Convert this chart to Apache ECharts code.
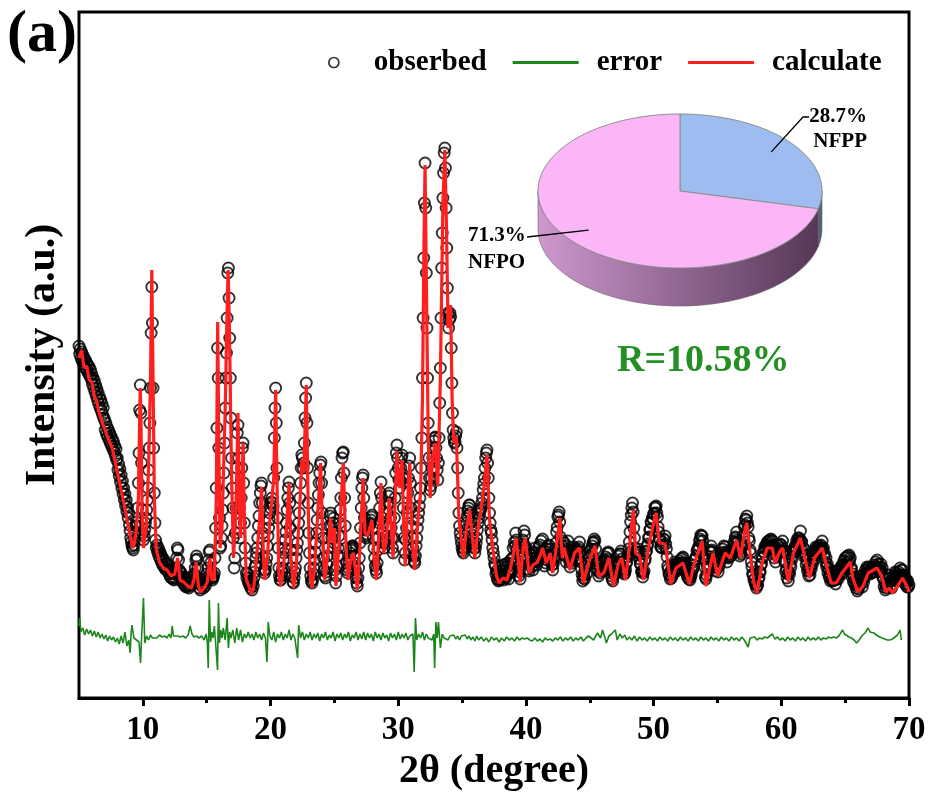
<!DOCTYPE html>
<html><head><meta charset="utf-8">
<script src="https://cdn.jsdelivr.net/npm/echarts@6/dist/echarts.min.js"></script>
<style>html,body{margin:0;padding:0;background:#fff}#c{width:931px;height:798px}</style>
</head><body><div id="c"></div>
<script>
// ---------------- data ----------------
const xTicks = [10, 20, 30, 40, 50, 60, 70];
const xMinorTicks = [15, 25, 35, 45, 55, 65];

// observed pattern: measured on a uniform 2θ grid starting at 5°, step 0.05° (one row = 1°)
const obsStart = 5;
const obsStep = 0.05;
const observedIntensity = [
/* 5 */ 352,344,349,340,346,337,343,334,340,331,338,329,335,327,333,324,331,322,328,319,
/* 6 */ 324,314,320,310,317,306,313,302,309,298,305,294,301,290,298,287,294,283,290,280,
/* 7 */ 278,268,275,264,271,261,268,258,265,255,262,252,259,249,256,246,252,242,249,238,
/* 8 */ 240,228,234,222,229,216,223,210,217,204,210,198,204,192,198,186,191,180,185,173,
/* 9 */ 167,160,156,152,150,148,153,158,165,172,176,172,190,215,245,288,313,285,235,188,
/*10 */ 165,158,162,168,175,180,188,198,210,228,250,275,310,365,411,375,310,250,205,175,
/*11 */ 158,150,153,146,150,142,147,139,144,136,141,133,139,131,137,129,135,128,134,127,
/*12 */ 132,124,129,121,127,120,126,119,125,118,124,120,130,140,150,148,138,128,122,126,
/*13 */ 119,124,116,121,114,120,112,118,111,117,113,119,110,116,112,118,114,120,116,122,
/*14 */ 124,118,130,138,142,139,130,120,114,110,108,114,118,112,116,110,114,118,112,120,
/*15 */ 124,118,130,138,146,148,135,126,120,118,120,122,125,140,170,210,270,350,320,250,
/*16 */ 180,150,152,160,172,188,205,225,255,290,320,345,380,425,430,400,360,320,280,240,
/*17 */ 210,190,160,130,140,165,190,230,265,273,240,190,160,175,200,230,250,255,215,175,
/*18 */ 150,135,125,120,124,116,120,113,117,110,114,108,116,112,120,126,132,140,145,150,
/*19 */ 160,172,182,195,205,212,215,195,165,140,128,125,128,134,140,152,162,170,178,185,
/*20 */ 190,196,200,195,192,220,260,290,310,275,230,180,150,130,122,118,118,122,126,130,
/*21 */ 138,145,150,158,166,175,188,200,210,216,195,170,148,130,122,116,115,120,126,130,
/*22 */ 140,148,155,165,175,185,200,215,230,243,240,230,235,255,280,300,315,275,230,195,
/*23 */ 165,145,130,122,117,115,118,124,130,138,146,155,165,178,190,203,215,225,233,236,
/*24 */ 215,185,160,140,128,122,120,126,134,142,150,160,172,182,185,172,160,166,175,180,
/*25 */ 155,128,115,122,132,142,150,162,175,188,200,220,240,245,246,225,200,172,150,135,
/*26 */ 128,125,130,136,140,145,148,150,152,152,150,142,135,128,120,115,112,120,130,140,
/*27 */ 155,170,190,210,220,223,200,180,168,162,160,164,168,170,172,174,175,178,181,183,
/*28 */ 170,160,150,140,132,128,125,135,148,160,175,190,205,216,200,180,165,155,150,155,
/*29 */ 158,162,172,185,195,202,205,195,180,170,160,150,145,160,180,200,225,245,253,240,
/*30 */ 230,218,210,218,230,240,243,220,190,160,138,145,158,170,185,205,220,232,240,215,
/*31 */ 190,172,160,150,142,137,135,142,152,160,170,178,185,192,200,210,230,260,320,380,
/*32 */ 440,495,535,490,425,370,320,275,240,220,208,212,220,230,240,250,257,260,261,250,
/*33 */ 240,228,218,235,260,295,330,380,430,465,500,525,545,550,530,490,450,410,385,370,
/*34 */ 378,385,381,350,315,285,268,260,255,256,262,266,250,230,205,185,172,165,160,155,
/*35 */ 150,147,145,150,156,162,168,175,182,187,190,193,193,185,176,170,163,158,155,150,
/*36 */ 145,150,155,160,168,175,180,184,187,188,190,195,200,208,214,220,230,240,245,248,
/*37 */ 235,220,200,185,175,168,165,158,150,145,140,134,132,124,127,119,124,117,122,118,
/*38 */ 131,119,128,122,133,118,126,121,134,120,131,124,135,119,128,125,138,127,134,140,
/*39 */ 150,141,156,152,165,158,149,137,131,122,126,119,133,141,150,158,154,167,163,152,
/*40 */ 149,138,141,129,134,127,143,134,144,131,139,128,146,136,150,137,145,133,142,136,
/*41 */ 151,139,153,144,157,146,159,147,143,132,147,135,149,138,152,140,153,142,149,137,
/*42 */ 143,133,128,134,141,139,149,155,166,171,181,183,186,176,161,148,144,152,157,147,
/*43 */ 155,146,142,136,149,152,157,144,137,131,141,137,135,145,148,151,142,149,139,146,
/*44 */ 147,138,149,151,156,146,136,129,123,117,120,123,119,129,131,124,135,134,142,141,
/*45 */ 140,147,149,144,152,155,156,159,157,149,138,134,129,127,122,132,125,134,136,128,
/*46 */ 127,136,129,138,131,141,137,145,139,146,145,136,131,128,122,119,117,124,127,131,
/*47 */ 124,132,126,136,135,142,135,144,144,147,139,135,129,127,124,125,128,134,136,141,
/*48 */ 144,149,156,166,176,183,190,195,186,170,160,150,146,143,146,145,149,146,139,134,
/*49 */ 134,126,127,121,125,127,137,139,146,147,152,154,160,161,168,169,176,175,180,179,
/*50 */ 184,185,191,190,192,185,181,171,166,159,158,151,151,150,156,153,159,158,162,154,
/*51 */ 149,141,132,129,124,123,119,127,120,130,123,132,126,136,129,134,127,133,129,135,
/*52 */ 131,137,133,139,135,140,141,135,133,129,129,125,126,121,125,119,123,118,121,123,
/*53 */ 127,129,129,133,138,139,139,142,147,149,149,152,157,159,163,162,162,157,151,139,
/*54 */ 131,121,119,123,131,134,139,141,146,147,152,148,146,139,139,132,131,127,131,133,
/*55 */ 130,126,137,132,142,138,145,140,149,143,152,146,151,141,145,136,144,140,146,141,
/*56 */ 147,142,148,145,151,149,156,154,161,160,166,158,156,147,149,142,146,144,153,151,
/*57 */ 161,163,171,173,179,178,182,175,171,160,157,148,145,136,131,124,123,118,119,114,
/*58 */ 115,110,112,113,119,120,126,126,133,134,141,140,146,146,151,149,153,152,156,154,
/*59 */ 157,150,158,152,159,151,157,149,153,140,144,136,149,142,153,145,152,146,154,148,
/*60 */ 153,150,157,147,146,136,137,126,129,120,124,117,126,124,134,131,141,139,148,146,
/*61 */ 150,146,152,150,157,154,160,156,160,158,167,157,156,147,150,142,149,143,143,133,
/*62 */ 137,127,130,122,127,123,132,129,137,134,143,139,147,143,151,146,150,147,152,148,
/*63 */ 152,149,153,150,157,148,150,141,144,136,140,131,134,125,129,121,124,117,122,118,
/*64 */ 126,117,127,118,122,114,123,119,127,119,128,124,129,125,132,124,133,129,137,133,
/*65 */ 140,132,141,133,142,135,143,137,140,129,130,121,124,116,121,114,118,110,114,107,
/*66 */ 112,109,118,114,122,114,118,111,119,116,124,121,128,124,131,126,130,126,131,124,
/*67 */ 129,125,130,126,131,126,133,129,136,131,138,130,134,126,131,127,134,127,130,120,
/*68 */ 120,111,115,108,113,110,119,115,123,116,120,112,117,110,118,114,122,118,126,121,
/*69 */ 125,117,122,118,126,122,130,123,128,123,128,120,123,115,120,113,118,111,117,111,
/*70 */ 113
];

const calculated = [
[5.0,340],[5.2,348],[5.4,330],[5.6,332],[5.8,318],[6.0,316],[6.2,302],[6.4,296],[6.6,284],[6.8,276],[7.0,270],[7.2,262],[7.4,256],[7.6,250],[7.8,238],[8.0,226],[8.2,214],[8.4,202],[8.6,190],[8.8,176],[9.0,164],[9.2,150],[9.35,155],[9.5,170],[9.65,200],[9.75,280],[9.8,310],[9.85,280],[9.95,180],[10.05,150],[10.25,170],[10.45,230],[10.6,320],[10.7,428],[10.8,320],[10.9,200],[11.05,148],[11.3,136],[11.6,130],[11.9,128],[12.2,122],[12.5,124],[12.72,140],[12.9,118],[13.2,116],[13.5,112],[13.8,110],[14.0,118],[14.18,136],[14.35,112],[14.55,106],[14.8,110],[15.05,116],[15.25,140],[15.4,118],[15.6,120],[15.75,200],[15.86,376],[15.96,240],[16.05,150],[16.2,170],[16.45,290],[16.6,390],[16.68,428],[16.78,370],[16.95,220],[17.1,140],[17.3,190],[17.45,285],[17.55,200],[17.65,160],[17.78,220],[17.85,255],[17.95,180],[18.1,118],[18.3,112],[18.5,104],[18.7,112],[18.9,140],[19.1,170],[19.3,211],[19.45,140],[19.55,118],[19.75,140],[19.95,180],[20.1,198],[20.25,220],[20.4,308],[20.5,220],[20.65,125],[20.8,112],[21.0,130],[21.25,170],[21.45,215],[21.6,140],[21.8,110],[22.0,130],[22.25,180],[22.45,238],[22.6,225],[22.8,313],[22.95,190],[23.1,125],[23.25,110],[23.45,130],[23.7,185],[23.92,235],[24.05,175],[24.25,118],[24.5,145],[24.7,180],[24.85,155],[25.0,170],[25.12,112],[25.35,150],[25.55,200],[25.7,235],[25.85,170],[26.05,118],[26.3,140],[26.5,145],[26.8,108],[27.0,150],[27.25,220],[27.4,165],[27.6,162],[27.95,178],[28.1,140],[28.3,118],[28.5,170],[28.65,215],[28.85,145],[29.05,155],[29.3,200],[29.6,140],[29.9,247],[30.05,215],[30.15,210],[30.3,238],[30.45,160],[30.55,132],[30.8,215],[30.9,235],[31.1,155],[31.3,128],[31.55,180],[31.75,205],[31.9,300],[32.02,460],[32.1,533],[32.2,420],[32.35,260],[32.5,200],[32.7,240],[32.9,255],[33.1,212],[33.3,320],[33.5,495],[33.65,548],[33.78,470],[33.9,370],[34.0,378],[34.1,393],[34.22,300],[34.35,255],[34.55,262],[34.75,180],[35.1,140],[35.35,170],[35.6,188],[35.85,155],[36.0,140],[36.3,175],[36.45,185],[36.75,215],[36.95,243],[37.15,178],[37.4,150],[37.7,122],[37.9,115],[38.2,120],[38.5,118],[38.8,130],[39.1,150],[39.25,160],[39.55,116],[39.8,152],[39.95,160],[40.25,125],[40.55,133],[40.9,136],[41.1,142],[41.3,150],[41.6,135],[41.9,145],[42.1,125],[42.45,158],[42.65,180],[42.85,140],[43.0,150],[43.45,128],[43.8,145],[44.2,150],[44.5,115],[44.9,135],[45.4,152],[45.7,122],[46.1,125],[46.5,140],[46.85,112],[47.25,135],[47.5,140],[47.8,118],[48.1,150],[48.42,188],[48.6,145],[48.9,142],[49.2,118],[49.6,150],[50.0,175],[50.2,185],[50.45,155],[50.9,154],[51.35,114],[51.75,130],[52.3,135],[52.8,114],[53.2,135],[53.8,157],[54.1,112],[54.65,145],[55.0,122],[55.6,145],[56.0,140],[56.5,158],[56.8,140],[57.1,165],[57.3,175],[57.55,145],[57.85,115],[58.1,105],[58.5,135],[58.9,150],[59.3,150],[59.5,135],[59.9,147],[60.1,150],[60.55,116],[60.95,145],[61.5,160],[61.85,140],[62.2,120],[62.6,140],[63.2,150],[63.55,132],[63.9,115],[64.3,115],[64.75,125],[65.4,136],[65.6,120],[66.0,106],[66.4,112],[66.8,125],[67.5,130],[67.85,122],[68.2,106],[68.45,110],[68.7,105],[69.1,112],[69.5,120],[69.9,110],[70.0,106]
];

const errorCurve = [
[5.0,72],[5.05,80],[5.15,66],[5.3,70],[5.45,63],[5.6,69],[5.75,64],[5.9,68],[6.05,62],[6.2,67],[6.35,61],[6.5,66],[6.65,60],[6.8,64],[6.95,59],[7.1,63],[7.25,57],[7.4,62],[7.55,58],[7.7,61],[7.85,56],[8.0,60],[8.15,54],[8.3,62],[8.45,55],[8.6,66],[8.75,52],[8.9,58],[9.0,45],[9.1,68],[9.15,73],[9.3,60],[9.5,58],[9.7,56],[9.82,35],[9.9,60],[10.05,100],[10.15,55],[10.3,62],[10.45,58],[10.6,63],[10.75,60],[10.9,62],[11.1,60],[11.3,63],[11.5,61],[11.7,62],[11.9,60],[12.05,64],[12.2,60],[12.3,72],[12.4,62],[12.55,60],[12.75,62],[12.95,61],[13.15,62],[13.35,60],[13.55,63],[13.7,72],[13.85,64],[14.0,61],[14.2,62],[14.4,60],[14.6,62],[14.8,58],[14.95,64],[15.05,56],[15.12,30],[15.2,98],[15.3,56],[15.4,66],[15.5,60],[15.6,72],[15.7,55],[15.85,28],[15.92,95],[16.0,55],[16.1,68],[16.2,60],[16.3,70],[16.45,58],[16.6,80],[16.7,50],[16.8,66],[16.9,60],[17.05,68],[17.2,55],[17.35,70],[17.5,58],[17.65,68],[17.8,56],[17.95,64],[18.1,60],[18.25,66],[18.4,60],[18.55,64],[18.7,58],[18.85,66],[19.0,60],[19.15,64],[19.3,58],[19.45,65],[19.6,60],[19.72,36],[19.82,76],[19.95,62],[20.1,58],[20.25,66],[20.4,56],[20.55,64],[20.7,60],[20.85,66],[21.0,58],[21.15,64],[21.3,60],[21.45,68],[21.6,58],[21.75,64],[21.9,60],[22.05,62],[22.12,40],[22.2,73],[22.35,60],[22.5,66],[22.65,58],[22.8,64],[22.95,60],[23.1,66],[23.25,58],[23.4,64],[23.55,60],[23.7,65],[23.85,57],[24.0,64],[24.15,60],[24.3,66],[24.45,58],[24.6,63],[24.75,60],[24.9,66],[25.05,57],[25.2,64],[25.35,60],[25.5,65],[25.65,58],[25.8,64],[25.95,60],[26.1,66],[26.25,57],[26.4,63],[26.55,60],[26.7,66],[26.85,58],[27.0,64],[27.15,59],[27.3,66],[27.45,58],[27.6,65],[27.75,60],[27.9,64],[28.05,57],[28.2,66],[28.35,60],[28.5,64],[28.65,58],[28.8,65],[28.95,60],[29.1,63],[29.25,57],[29.4,65],[29.55,60],[29.7,64],[29.85,58],[30.0,66],[30.15,59],[30.3,64],[30.45,60],[30.6,65],[30.75,58],[30.9,62],[31.05,60],[31.15,64],[31.25,26],[31.35,80],[31.45,58],[31.6,64],[31.75,60],[31.9,66],[32.05,58],[32.2,64],[32.35,60],[32.5,62],[32.65,58],[32.78,64],[32.85,30],[32.95,76],[33.05,60],[33.15,76],[33.3,50],[33.45,64],[33.6,60],[33.75,62],[33.9,58],[34.05,62],[34.2,60],[34.35,63],[34.5,59],[34.65,62],[34.8,58],[34.95,62],[35.1,60],[35.25,63],[35.4,59],[35.55,62],[35.7,58],[35.85,61],[36.0,57],[36.15,62],[36.3,58],[36.5,61],[36.7,57],[36.9,60],[37.1,56],[37.3,61],[37.5,58],[37.7,60],[37.9,56],[38.1,60],[38.3,57],[38.5,61],[38.7,58],[38.9,60],[39.1,57],[39.3,61],[39.5,58],[39.7,60],[39.9,59],[40.1,60],[40.3,58],[40.5,57],[40.7,60],[40.9,57],[41.1,59],[41.3,56],[41.5,60],[41.7,58],[41.9,59],[42.1,57],[42.3,60],[42.5,58],[42.7,61],[42.9,57],[43.1,60],[43.3,58],[43.5,61],[43.7,57],[43.9,60],[44.1,58],[44.3,61],[44.5,57],[44.7,60],[44.9,62],[45.0,64],[45.3,58],[45.6,65],[45.85,60],[46.0,68],[46.15,62],[46.3,55],[46.5,62],[46.7,64],[47.0,68],[47.15,58],[47.35,64],[47.55,60],[47.75,63],[47.9,58],[48.1,61],[48.3,58],[48.5,62],[48.7,57],[48.9,61],[49.1,58],[49.3,60],[49.5,57],[49.7,61],[49.9,58],[50.1,60],[50.3,57],[50.5,61],[50.7,58],[50.9,60],[51.1,57],[51.3,61],[51.5,58],[51.7,60],[51.9,57],[52.1,61],[52.3,58],[52.5,60],[52.7,57],[52.9,61],[53.1,58],[53.3,60],[53.5,57],[53.7,61],[53.9,58],[54.1,60],[54.3,57],[54.5,61],[54.7,58],[54.9,60],[55.1,57],[55.3,61],[55.5,58],[55.7,60],[55.9,57],[56.1,61],[56.3,58],[56.5,60],[56.7,57],[56.9,61],[57.1,58],[57.25,60],[57.4,51],[57.55,60],[57.7,58],[57.9,61],[58.1,58],[58.3,60],[58.5,59],[58.7,61],[58.9,60],[59.1,62],[59.3,64],[59.5,59],[59.7,61],[59.9,58],[60.1,60],[60.3,57],[60.5,61],[60.7,58],[60.9,60],[61.1,57],[61.3,61],[61.5,58],[61.7,60],[61.9,57],[62.1,61],[62.3,58],[62.5,60],[62.7,58],[62.9,61],[63.1,58],[63.3,60],[63.5,59],[63.7,61],[63.9,60],[64.1,61],[64.3,60],[64.5,62],[64.65,64],[64.8,68],[64.95,64],[65.1,62],[65.3,61],[65.5,60],[65.7,58],[65.9,55],[66.1,58],[66.3,62],[66.55,65],[66.8,70],[66.95,66],[67.1,67],[67.25,65],[67.45,63],[67.7,61],[67.9,60],[68.1,59],[68.3,58],[68.5,58],[68.7,59],[68.9,61],[69.1,63],[69.25,65],[69.3,68],[69.4,58]
];

const pieNames = ['NFPP', 'NFPO'];
const pieValues = [28.7, 71.3];
const pieLabels = ['28.7%', '71.3%'];
const rFactorText = 'R=10.58%';
const panelLabel = '(a)';

// ---------------- styling / layout ----------------
const SERIF = "'Liberation Serif','Times New Roman',serif";
const PIE = { cx: 680, cy: 191, rx: 142, ry: 77, depth: 38 };
const pieTopColors = ['#9dbcf0', '#fbb6f8'];
const pieSideColors = [['#4d5d78', '#56667f'], ['#cf98cf', '#553755']];
const pieLabelLayout = [
  { elbow: [803, 117], end: [809, 117], tx: 867, align: 'right', ty: [117, 142] },
  { elbow: null, end: [527, 237], tx: 468, align: 'left', ty: [236, 263] }
];
const lineIcon = 'path://M0,0H66V3H0Z';

const observedData = observedIntensity.map((v, i) => [+(obsStart + i * obsStep).toFixed(2), v]);

function renderSlice(params, api) {
  const i = params.dataIndex;
  const total = pieValues.reduce((a, b) => a + b, 0);
  let before = 0;
  for (let k = 0; k < i; k++) before += pieValues[k];
  const a0 = 90 - before / total * 360;
  const a1 = a0 - api.value(0) / total * 360;
  const pt = (deg, f, dy) => [PIE.cx + f * PIE.rx * Math.cos(deg * Math.PI / 180),
                              PIE.cy - f * PIE.ry * Math.sin(deg * Math.PI / 180) + dy];
  const arc = (from, to, dy) => {
    const n = Math.max(2, Math.ceil(Math.abs(from - to) / 2));
    const out = [];
    for (let k = 0; k <= n; k++) out.push(pt(from + (to - from) * k / n, 1, dy));
    return out;
  };
  const children = [];
  const lo = Math.max(a1, -180), hi = Math.min(a0, 0);
  if (hi > lo) {
    const pts = arc(hi, lo, 0).concat(arc(lo, hi, PIE.depth));
    children.push({
      type: 'polygon', z2: 1, shape: { points: pts },
      style: {
        fill: new echarts.graphic.LinearGradient(0, 0, 1, 0, [
          { offset: 0, color: pieSideColors[i][0] }, { offset: 1, color: pieSideColors[i][1] }]),
        stroke: '#6b5a6b', lineWidth: 0.6
      }
    });
  }
  const top = [[PIE.cx, PIE.cy]].concat(arc(a0, a1, 0));
  children.push({ type: 'polygon', z2: 2, shape: { points: top },
    style: { fill: pieTopColors[i], stroke: '#8f8f8f', lineWidth: 1 } });
  const mid = (a0 + a1) / 2;
  const anchor = pt(mid, 0.82, 0);
  const L = pieLabelLayout[i];
  const linePts = [anchor];
  if (L.elbow) linePts.push(L.elbow);
  linePts.push(L.end);
  children.push({ type: 'polyline', z2: 3, shape: { points: linePts },
    style: { stroke: '#000', lineWidth: 1.3, fill: null } });
  [pieLabels[i], pieNames[i]].forEach((t, k) => {
    children.push({ type: 'text', z2: 4, style: {
      text: t, x: L.tx, y: L.ty[k], align: L.align, verticalAlign: 'middle',
      fontFamily: SERIF, fontWeight: 'bold', fontSize: 21, fill: '#000' } });
  });
  return { type: 'group', children };
}

const chart = echarts.init(document.getElementById('c'), null, { renderer: 'canvas' });
chart.setOption({
  animation: false,
  backgroundColor: '#fff',
  grid: { left: 79, right: 22, top: 12, bottom: 100, show: true, borderColor: '#000', borderWidth: 3, backgroundColor: 'transparent' },
  legend: {
    left: 328, top: 48, padding: 0, itemGap: 26, itemWidth: 66, itemHeight: 10,
    textStyle: { fontFamily: SERIF, fontWeight: 'bold', fontSize: 29, color: '#000' },
    data: [
      { name: 'obserbed', icon: 'circle', itemStyle: { color: 'rgba(0,0,0,0)', borderColor: '#000', borderWidth: 1.7 }, textStyle: { padding: [0, 0, 0, 2] } },
      { name: 'error', icon: lineIcon, textStyle: { padding: [0, 0, 0, 13] } },
      { name: 'calculate', icon: lineIcon, textStyle: { padding: [0, 0, 0, 13] } }
    ]
  },
  xAxis: [{
    type: 'value', min: 5, max: 70,
    axisLine: { show: true, lineStyle: { color: '#000', width: 3 } },
    axisTick: { show: true, inside: false, length: 8, customValues: xTicks, lineStyle: { color: '#000', width: 3 } },
    axisLabel: { customValues: xTicks, color: '#000', fontFamily: SERIF, fontWeight: 'bold', fontSize: 33, margin: 16 },
    splitLine: { show: false },
    name: '2θ (degree)', nameLocation: 'middle', nameGap: 53,
    nameTextStyle: { fontFamily: SERIF, fontWeight: 'bold', fontSize: 40, color: '#000' }
  }, {
    type: 'value', min: 5, max: 70, position: 'bottom',
    axisLine: { show: false },
    axisTick: { show: true, inside: false, length: 5, customValues: xMinorTicks, lineStyle: { color: '#000', width: 3 } },
    axisLabel: { show: false }, splitLine: { show: false }
  }],
  yAxis: {
    type: 'value', min: 0, max: 686,
    axisLine: { show: false }, axisTick: { show: false }, axisLabel: { show: false }, splitLine: { show: false },
    name: 'Intensity (a.u.)', nameLocation: 'middle', nameGap: 15, nameRotate: 90,
    nameTextStyle: { fontFamily: SERIF, fontWeight: 'bold', fontSize: 42, color: '#000' }
  },
  graphic: [
    { type: 'text', left: 7, top: 5, style: { text: panelLabel, fontFamily: SERIF, fontWeight: 'bold', fontSize: 60, fill: '#000' } },
    { type: 'text', left: 617, top: 342, style: { text: rFactorText, fontFamily: SERIF, fontWeight: 'bold', fontSize: 38, fill: '#248f24' } }
  ],
  series: [
    { name: 'obserbed', type: 'scatter', data: observedData, symbol: 'circle', symbolSize: 11,
      large: false, progressive: 0,
      itemStyle: { color: 'rgba(0,0,0,0)', borderColor: '#000', borderWidth: 1.9 }, z: 2, silent: true },
    { name: 'calculate', type: 'line', data: calculated, showSymbol: false, symbol: 'none',
      lineStyle: { color: '#ff1f1f', width: 3.2 }, itemStyle: { color: '#ff1f1f' }, z: 3, silent: true },
    { name: 'error', type: 'line', data: errorCurve, showSymbol: false, symbol: 'none',
      lineStyle: { color: '#1c861c', width: 1.6 }, itemStyle: { color: '#1c861c' }, z: 3, silent: true },
    { name: 'phases', type: 'custom', coordinateSystem: 'none', data: pieValues, renderItem: renderSlice, z: 5, silent: true }
  ]
});
</script>
</body></html>
